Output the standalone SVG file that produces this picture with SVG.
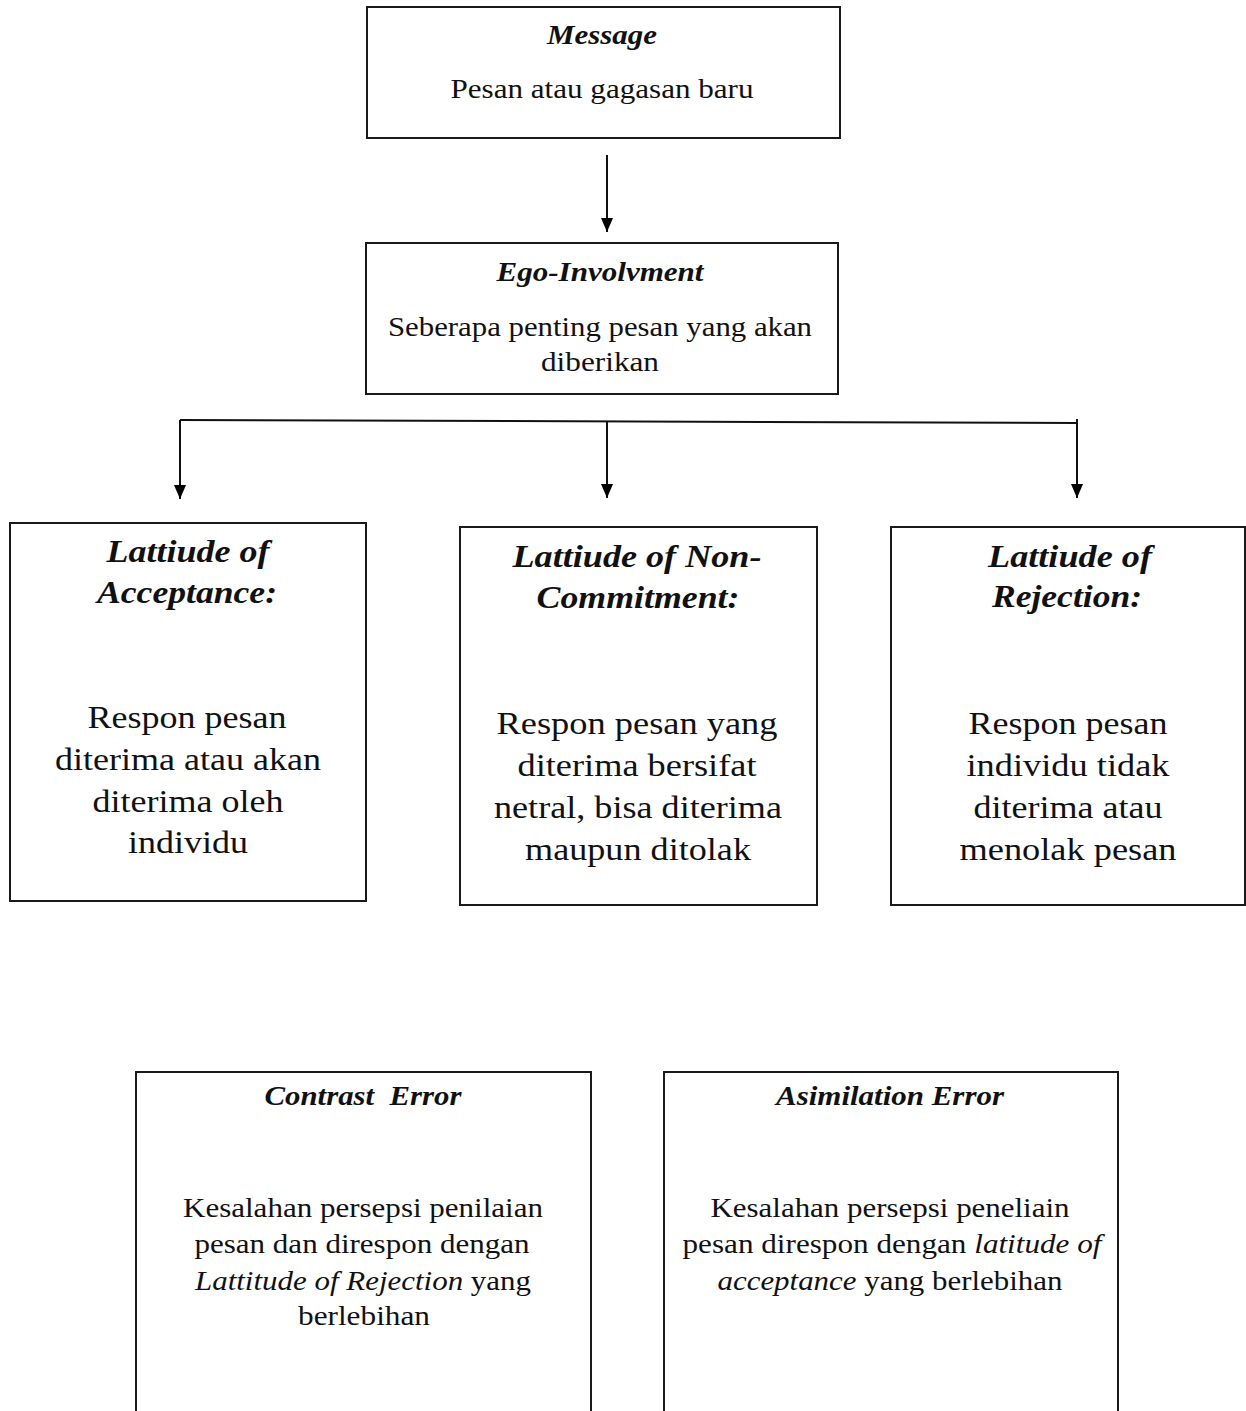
<svg xmlns="http://www.w3.org/2000/svg" width="1246" height="1411" viewBox="0 0 1246 1411">
<defs>
<marker id="ah" markerWidth="14" markerHeight="12" refX="14" refY="6" orient="auto" markerUnits="userSpaceOnUse" viewBox="0 0 14 12">
<path d="M0,0 L14,6 L0,12 Z" fill="#000"/>
</marker>
<style>
.box{fill:#fff;stroke:#1a1a1a;stroke-width:2}
.open{fill:none;stroke:#1a1a1a;stroke-width:2}
text{fill:#111;text-anchor:middle;font-family:"Liberation Serif","Times New Roman",serif}
.bi{font-weight:bold;font-style:italic}
.i{font-style:italic}
.s27{font-size:27px}
.s30{font-size:31px}
.s32{font-size:32px}
.conn{fill:none;stroke:#111;stroke-width:2}
</style>
</defs>
<rect width="1246" height="1411" fill="#fff"/>

<g id="connectors">
<line class="conn" x1="607" y1="155" x2="607" y2="232" marker-end="url(#ah)"/>
<polyline class="conn" points="180,420 1077,423"/>
<line class="conn" x1="180" y1="420" x2="180" y2="499" marker-end="url(#ah)"/>
<line class="conn" x1="607" y1="421.5" x2="607" y2="498" marker-end="url(#ah)"/>
<line class="conn" x1="1077" y1="419" x2="1077" y2="498" marker-end="url(#ah)"/>
</g>

<g id="message">
<rect class="box" x="367" y="7" width="473" height="131"/>
<text class="bi s27" x="602" y="44" textLength="110" lengthAdjust="spacingAndGlyphs">Message</text>
<text class="s27" x="602" y="98" textLength="303" lengthAdjust="spacingAndGlyphs">Pesan atau gagasan baru</text>
</g>

<g id="ego-involvment">
<rect class="box" x="366" y="243" width="472" height="151"/>
<text class="bi s27" x="600" y="281" textLength="207" lengthAdjust="spacingAndGlyphs">Ego-Involvment</text>
<text class="s27" x="600" y="336" textLength="424" lengthAdjust="spacingAndGlyphs">Seberapa penting pesan yang akan</text>
<text class="s27" x="600" y="371" textLength="118" lengthAdjust="spacingAndGlyphs">diberikan</text>
</g>

<g id="acceptance">
<rect class="box" x="10" y="523" width="356" height="378"/>
<text class="bi s30" x="188" y="562" textLength="163" lengthAdjust="spacingAndGlyphs">Lattiude of</text>
<text class="bi s30" x="187" y="603" textLength="180" lengthAdjust="spacingAndGlyphs">Acceptance:</text>
<text class="s32" x="187" y="728" textLength="199" lengthAdjust="spacingAndGlyphs">Respon pesan</text>
<text class="s32" x="188" y="770" textLength="266" lengthAdjust="spacingAndGlyphs">diterima atau akan</text>
<text class="s32" x="188" y="812" textLength="191" lengthAdjust="spacingAndGlyphs">diterima oleh</text>
<text class="s32" x="188" y="853" textLength="120" lengthAdjust="spacingAndGlyphs">individu</text>
</g>

<g id="non-commitment">
<rect class="box" x="460" y="527" width="357" height="378"/>
<text class="bi s30" x="637" y="567" textLength="249" lengthAdjust="spacingAndGlyphs">Lattiude of Non-</text>
<text class="bi s30" x="638" y="608" textLength="203" lengthAdjust="spacingAndGlyphs">Commitment:</text>
<text class="s32" x="637" y="734" textLength="281" lengthAdjust="spacingAndGlyphs">Respon pesan yang</text>
<text class="s32" x="637" y="776" textLength="239" lengthAdjust="spacingAndGlyphs">diterima bersifat</text>
<text class="s32" x="638" y="818" textLength="288" lengthAdjust="spacingAndGlyphs">netral, bisa diterima</text>
<text class="s32" x="638" y="860" textLength="226" lengthAdjust="spacingAndGlyphs">maupun ditolak</text>
</g>

<g id="rejection">
<rect class="box" x="891" y="527" width="354" height="378"/>
<text class="bi s30" x="1070" y="567" textLength="164" lengthAdjust="spacingAndGlyphs">Lattiude of</text>
<text class="bi s30" x="1067" y="607" textLength="150" lengthAdjust="spacingAndGlyphs">Rejection:</text>
<text class="s32" x="1068" y="734" textLength="199" lengthAdjust="spacingAndGlyphs">Respon pesan</text>
<text class="s32" x="1068" y="776" textLength="203" lengthAdjust="spacingAndGlyphs">individu tidak</text>
<text class="s32" x="1068" y="818" textLength="189" lengthAdjust="spacingAndGlyphs">diterima atau</text>
<text class="s32" x="1068" y="860" textLength="217" lengthAdjust="spacingAndGlyphs">menolak pesan</text>
</g>

<g id="contrast-error">
<path class="open" d="M136,1412 V1072 H591 V1412"/>
<text class="bi s27" x="363" y="1105" textLength="197" lengthAdjust="spacingAndGlyphs" xml:space="preserve">Contrast  Error</text>
<text class="s27" x="363" y="1217" textLength="360" lengthAdjust="spacingAndGlyphs">Kesalahan persepsi penilaian</text>
<text class="s27" x="362" y="1253" textLength="335" lengthAdjust="spacingAndGlyphs">pesan dan direspon dengan</text>
<text class="s27" x="363" y="1290" textLength="336" lengthAdjust="spacingAndGlyphs"><tspan class="i">Lattitude of Rejection</tspan> yang</text>
<text class="s27" x="364" y="1325" textLength="132" lengthAdjust="spacingAndGlyphs">berlebihan</text>
</g>

<g id="asimilation-error">
<path class="open" d="M664,1412 V1072 H1118 V1412"/>
<text class="bi s27" x="890" y="1105" textLength="228" lengthAdjust="spacingAndGlyphs">Asimilation Error</text>
<text class="s27" x="890" y="1217" textLength="359" lengthAdjust="spacingAndGlyphs">Kesalahan persepsi peneliain</text>
<text class="s27" x="892" y="1253" textLength="419" lengthAdjust="spacingAndGlyphs">pesan direspon dengan <tspan class="i">latitude of</tspan></text>
<text class="s27" x="890" y="1290" textLength="345" lengthAdjust="spacingAndGlyphs"><tspan class="i">acceptance</tspan> yang berlebihan</text>
</g>
</svg>
